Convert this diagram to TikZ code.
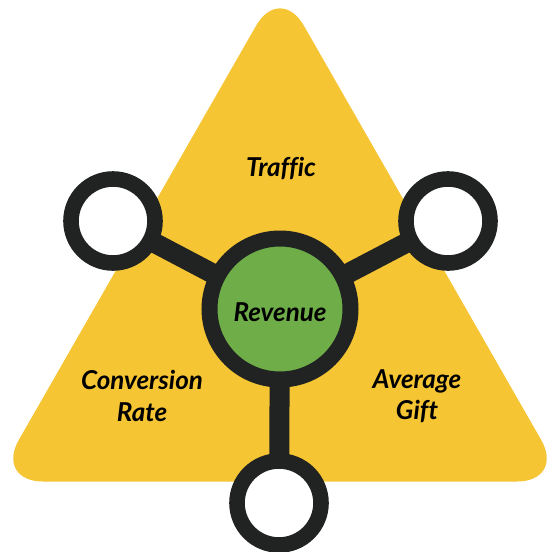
\documentclass[tikz,border=0pt]{standalone}
\usepackage{fontspec}
\newfontfamily\latofont[Ligatures=NoCommon]{Lato}
\usetikzlibrary{calc}
\definecolor{triyellow}{HTML}{F5C533}
\definecolor{revgreen}{HTML}{6EAD48}
\definecolor{ringdark}{HTML}{212322}
\pgfdeclarelayer{background}
\pgfsetlayers{background,main}

\begin{document}
\begin{tikzpicture}[x=1pt, y=-1pt,
		ring/.style={circle, draw=ringdark, line width=15.6pt, fill=white, minimum size=84pt, inner sep=0pt},
		hub/.style={circle, draw=ringdark, line width=16pt, fill=revgreen, minimum size=141pt, inner sep=0pt},
		arm/.style={draw=ringdark, line width=20pt},
		lbl/.style={font=\latofont\bfseries\itshape\fontsize{26}{31.5}\selectfont, align=center, text=black}]
			%%%%% START %%%%%
			\useasboundingbox (0, 0) rectangle (547, 552);
			\clip (0, 0) rectangle (547, 552);
			
			\node[hub] (revenue) at (280, 309) {};
			\node[ring] (traffic) at (113, 221) {};
			\node[ring] (gift) at (448, 221) {};
			\node[ring] (conversion) at (279, 503) {};
			
			\begin{pgfonlayer}{background}
				\fill[triyellow, rounded corners=48pt] (-5, 481.5) -- (280, -16) -- (565, 481.5) -- cycle;
				\draw[arm] (revenue.center) -- (traffic.center);
				\draw[arm] (revenue.center) -- (gift.center);
				\draw[arm] (revenue.center) -- (conversion.center);
			\end{pgfonlayer}
			
			\node[lbl] (revlbl) at (280, 312) {Revenue};
			\node[lbl] (trafficlbl) at (281, 168) {Traffic};
			\node[lbl] (convlbl) at (142, 396) {Conversion\\Rate};
			\node[lbl] (giftlbl) at (417, 396) {Average\\Gift};
			%%%%% END %%%%%
		\end{tikzpicture}
\end{document}
